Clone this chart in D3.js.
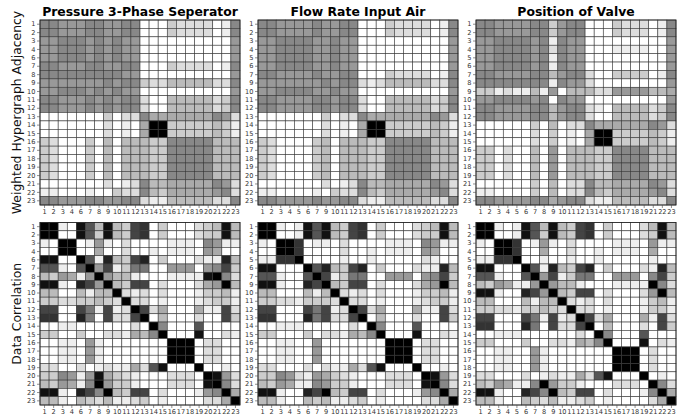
<!DOCTYPE html>
<html><head><meta charset="utf-8">
<script src="https://cdn.jsdelivr.net/npm/d3@7"></script>
<style>body{margin:0;background:#fff}text{font-family:"DejaVu Sans",sans-serif}</style>
</head><body><svg id="c" width="699" height="419"></svg>
<script>
const titles = ["Pressure 3-Phase Seperator", "Flow Rate Input Air", "Position of Valve"];
const rowTitles = ["Weighted Hypergraph Adjacency", "Data Correlation"];
const labelsPressure = [1,2,3,4,6,7,8,9,10,11,12,13,14,15,16,17,18,19,20,21,22,23];
const labelsFlow = [1,2,3,4,5,6,7,9,10,11,12,13,14,15,16,17,18,19,20,21,22,23];
const labelsValve = [1,2,3,4,5,6,7,8,9,10,11,12,13,14,15,16,17,18,19,21,22,23];
// gray levels 0 (white) .. f (black), one string per row
const adjPressure = [
"7766677667700032222017","7766677667700032222017","6677767676600000000006","6677767676600000000006",
"6677767676600000000006","7766677667700032222017","7777777776600000000006","6666666767732244444227",
"6677767676600000000006","7766676767720044444237","7766676767720044444237","0000000302275555555762",
"000000020105ff33333431","000000020105ff33333431","3200030404443377777444","3200030404443377777444",
"3200030404443377777444","3200030404443377777444","3200030404443377777444","0000000201274455555762",
"1100010032274355555672","7766677667721144444227"];
const adjFlow = [
"7766667667700032222017","7766667667700032222017","6677776676600000000006","6677776676600000000006",
"6677776676600000000006","6677776676600000000006","7766667667700032222017","6666666767721244444227",
"6677776676600000000006","7766667767720044444237","7766667767720044444237","0000000302275555555762",
"000000020105ff33333431","000000020105ff33333431","3200003404443377777444","3200003404443377777444",
"3200003404443377777444","3200003404443377777444","3200003404443377777444","0000000201274455555762",
"1100001032274355555672","7766667667721144444227"];
const adjValve = [
"7766667736770003222017","7766667736770003222017","6677776717660000000006","6677776727660001111006",
"6677776717660000000006","6677776717660000000006","7766667746772003333017","7777777717662000000006",
"3312114160444226666445","6677776707660000000006","7766667746772104444237","7766667746772004444237",
"0000003040227555555762","0000002030105ff3333431","0000002030105ff3333431","3302004060444337777444",
"3302004060444337777444","3302004060444337777444","3302004060444337777444","0000003040227445555762",
"1100003040227435555672","7766667756772114444227"];
// correlation of variables 1..23 (each panel leaves out its target)
const corrAll = [
"ff101ea4e43bc03000234e4","ff001ea3e43bc03000233e4","10ffc016102000011107611","00ffc005002001011106500",
"11ccf001001001000002100","ee000fa1d43bd03000211d4","aa100af6b138800666067b3","4365116f64410001111ef72",
"ee100db6f43bb02000256f4","440004144f2120200013341","3322133432f220100012331","bb000b81b12fb25000511b2",
"cc000d80b22bf04000200b3","0011100000020f7000a0000","33000300221547f000e0021","001100610000000fff02200",
"001100610000000fff02200","001100610000000fff02200","2200020121152ae000f0010","3376216e53210002220fe62",
"4365117f63310002220ef72","ee100db7f43bb02000167f5","4410043241123010000225f"];

const svg = d3.select("#c");
const colX = [40, 258, 476], W = 200;
const rowY = [[20, 205], [222.5, 405]];
const labelSets = [labelsPressure, labelsFlow, labelsValve];
const adjSets = [adjPressure, adjFlow, adjValve];
const shade = d3.scaleLinear().domain([0, 15]).range(["#ffffff", "#000000"]);

function panel(r, c, labels, getVal) {
  const x = d3.scaleBand().domain(labels).range([colX[c], colX[c] + W]);
  const y = d3.scaleBand().domain(labels).range(rowY[r]);
  const g = svg.append("g");
  const cells = [];
  labels.forEach((a, i) => labels.forEach((b, j) => cells.push({a, b, v: getVal(i, j, a, b)})));
  g.selectAll("rect.cell").data(cells).join("rect")
    .attr("x", d => x(d.b)).attr("y", d => y(d.a))
    .attr("width", x.bandwidth()).attr("height", y.bandwidth())
    .attr("fill", d => shade(d.v))
    .attr("stroke", "#3a3a3a").attr("stroke-width", 0.6);
  g.append("rect").attr("x", colX[c]).attr("y", rowY[r][0]).attr("width", W)
    .attr("height", rowY[r][1] - rowY[r][0]).attr("fill", "none").attr("stroke", "#222").attr("stroke-width", 0.8);
  const ax = g.append("g").attr("transform", `translate(0,${rowY[r][1]})`)
    .call(d3.axisBottom(x).tickSize(3).tickPadding(1.5));
  const ay = g.append("g").attr("transform", `translate(${colX[c]},0)`)
    .call(d3.axisLeft(y).tickSize(3).tickPadding(1.5));
  [ax, ay].forEach(a => {
    a.select(".domain").remove();
    a.selectAll("text").attr("font-size", 6.6).attr("fill", "#333").attr("font-family", "DejaVu Sans");
    a.selectAll("line").attr("stroke", "#444").attr("stroke-width", 0.6);
  });
}

for (let c = 0; c < 3; c++) {
  const labels = labelSets[c];
  const adj = adjSets[c];
  panel(0, c, labels, (i, j) => parseInt(adj[i][j], 16));
  panel(1, c, labels, (i, j, a, b) => parseInt(corrAll[a - 1][b - 1], 16));
  svg.append("text").attr("x", colX[c] + W / 2).attr("y", 16)
    .attr("text-anchor", "middle").attr("font-size", 12.4).attr("font-weight", "bold")
    .attr("fill", "#000").text(titles[c]);
}
rowTitles.forEach((t, r) => {
  const cy = (rowY[r][0] + rowY[r][1]) / 2;
  svg.append("text").attr("transform", `translate(21,${cy}) rotate(-90)`)
    .attr("text-anchor", "middle").attr("font-size", 12.4).attr("fill", "#111").text(t);
});
</script></body></html>
